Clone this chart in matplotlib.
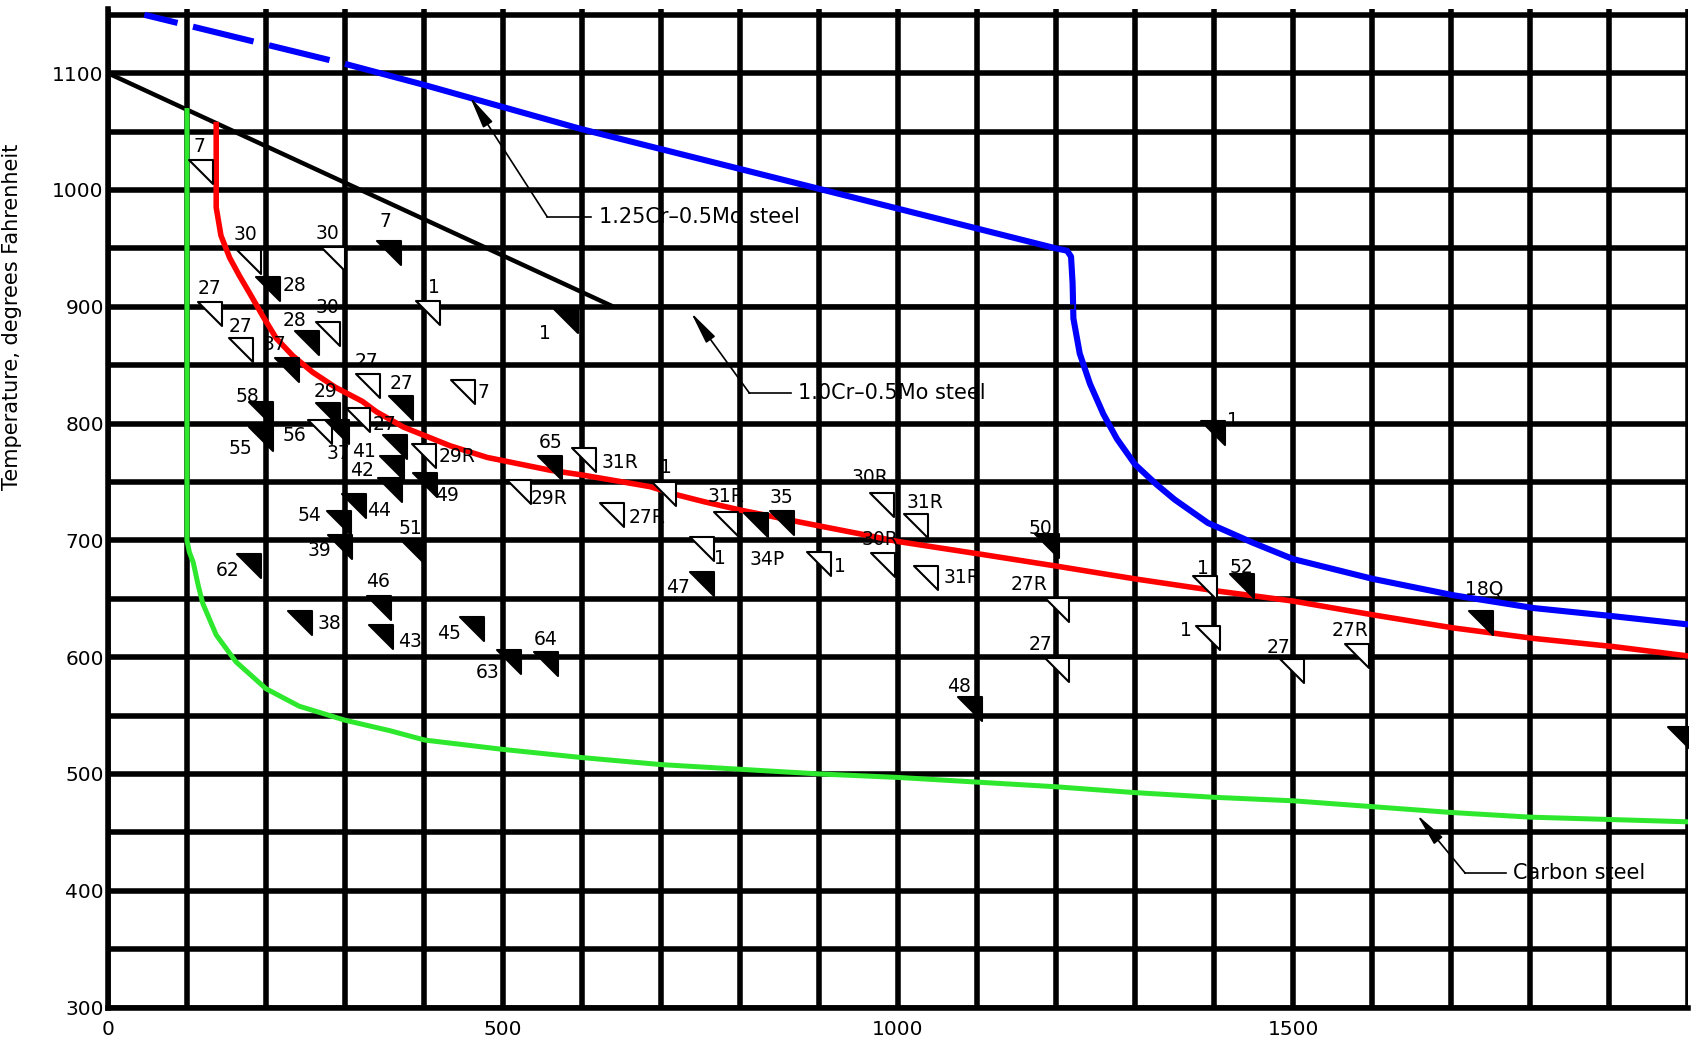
import numpy as np
import matplotlib.pyplot as plt
from matplotlib.path import Path

# Curves (x: time, y: temperature in degrees F)
blue_x = [46, 300, 400, 500, 600, 900, 1200, 1214, 1219, 1221, 1222, 1230, 1243, 1260, 1277,
          1300, 1327, 1350, 1392, 1449, 1500, 1601, 1703, 1805, 1906, 2000]
blue_y = [1150, 1108, 1090, 1071, 1052, 1001, 950, 948, 943, 920, 890, 860, 834, 808, 787,
          765, 748, 735, 715, 698, 684, 667, 653, 642, 635, 628]
blue_dash_end = 300

black_x = [0, 640, 1220]
black_y = [1100, 900, 900]

red_x = [137, 137, 143, 154, 166, 179, 196, 213, 234, 259, 288, 322, 340, 374, 433, 480, 560,
         600, 686, 720, 755, 800, 873, 956, 1000, 1106, 1200, 1300, 1400, 1500, 1603, 1703,
         1805, 1906, 2000]
red_y = [1056, 985, 961, 942, 927, 912, 892, 873, 858, 844, 831, 819, 810, 797, 781, 771, 760,
         756, 746, 739, 733, 726, 716, 705, 699, 688, 678, 667, 657, 648, 636, 625,
         616, 609, 601]

green_x = [100, 100, 103, 108, 114, 120, 137, 162, 200, 242, 300, 357, 401, 500, 600, 700, 800,
           900, 1000, 1100, 1200, 1300, 1400, 1500, 1600, 1700, 1800, 1900, 2000]
green_y = [1068, 700, 690, 681, 662, 646, 619, 596, 573, 558, 546, 537, 529, 521, 514, 508, 504,
           500, 497, 493, 489, 484, 480, 477, 472, 467, 463, 461, 459]

# Data points (filled = 1, open = 0)
pts_x = [118, 178, 285, 356, 203, 129, 405, 580, 168, 252, 278, 226, 329, 371, 449, 194, 279,
         269, 290, 316, 194, 363, 360, 357, 400, 401, 312, 292, 294, 386, 179, 343, 243, 345,
         461, 507, 554, 560, 603, 520, 638, 704, 782, 820, 853, 752, 752, 900, 980, 1023, 981,
         1035, 1189, 1201, 1201, 1091, 1399, 1388, 1436, 1392, 1499, 1581, 1738, 1990]
pts_y = [1015, 938, 941, 946, 915, 894, 895, 888, 863, 869, 877, 846, 832, 813, 827, 808, 807,
         793, 793, 803, 787, 780, 762, 743, 772, 747, 729, 715, 694, 690, 678, 642, 629, 617,
         624, 596, 594, 762, 769, 741, 722, 740, 714, 713, 715, 693, 663, 680, 730, 712, 679,
         668, 695, 640, 589, 556, 792, 659, 661, 616, 588, 601, 629, 530]
pts_label = ["7", "30", "30", "7", "28", "27", "1", "1", "27", "28", "30", "37", "27", "27", "7",
             "58", "29", "56", "37", "27", "55", "41", "", "42", "29R", "49", "44", "54", "39",
             "51", "62", "46", "38", "43", "45", "63", "64", "65", "31R", "29R", "27R", "1",
             "31R", "34P", "35", "1", "47", "1", "30R", "31R", "30R", "31R", "50", "27R", "27",
             "48", "1", "1", "52", "1", "27", "27R", "18Q", ""]
pts_filled = [0, 0, 0, 1, 1, 0, 0, 1, 0, 1, 0, 1, 0, 1, 0, 1, 1, 0, 1, 0, 1, 1, 1, 1, 0, 1, 1,
              1, 1, 1, 1, 1, 1, 1, 1, 1, 1, 1, 0, 0, 0, 0, 0, 1, 1, 0, 1, 0, 0, 0, 0, 0, 1, 0,
              0, 1, 1, 0, 1, 0, 0, 0, 1, 1]

# label offsets in points (layout)
lab_off = [(-1, 19), (-2, 20), (-4, 18), (-3, 23), (19, 3), (0, 18), (4, 18), (-15, -9),
           (0, 17), (-9, 16), (0, 19), (-9, 18), (-1, 18), (0, 18), (15, 0), (-10, 13),
           (-2, 17), (-19, -3), (1, -16), (19, -3), (-15, -7), (-22, -3), (0, 0), (-20, 14),
           (24, 0), (16, -7), (18, -3), (-21, 5), (-15, -2), (-2, 17), (-16, -3), (-1, 19),
           (21, 0), (21, -3), (-17, -3), (-15, -8), (0, 18), (0, 18), (26, -2), (22, -4),
           (25, -2), (1, 19), (0, 20), (8, -25), (0, 18), (13, -7), (-17, -3), (15, -2),
           (-9, 20), (6, 17), (-2, 18), (26, 0), (-5, 13), (-20, 19), (-12, 18), (-8, 16),
           (14, 9), (-1, 14), (-1, 13), (-16, 6), (-10, 17), (-5, 18), (2, 25), (0, 0)]

# curve labels: text, arrow tip, elbow, end of horizontal leader
curve_notes = [
    ("1.25Cr\u20130.5Mo steel", (458, 1080), (556, 977), (612, 977)),
    ("1.0Cr\u20130.5Mo steel", (738, 895), (812, 826), (864, 826)),
    ("Carbon steel", (1657, 465), (1718, 415), (1769, 415)),
]

plt.rcParams['font.family'] = ['DejaVu Sans']

fig = plt.figure(figsize=(16.95, 10.42), dpi=100)
ax = fig.add_axes([0.0637, 0.0331, 0.9322, 0.9583])
ax.set_xlim(0, 2000)
ax.set_ylim(300, 1155)

ax.set_xticks([0, 500, 1000, 1500])
ax.set_xticks(np.arange(0, 2001, 100), minor=True)
ax.set_yticks(np.arange(300, 1101, 100))
ax.set_yticks(np.arange(300, 1151, 50), minor=True)
ax.grid(which='both', color='black', lw=4.0)
ax.set_axisbelow(True)
ax.tick_params(which='both', length=0, labelsize=14.5)
ax.tick_params(axis='x', pad=9)
ax.tick_params(axis='y', pad=3)
for s in ['top', 'right']:
    ax.spines[s].set_visible(False)
for s in ['left', 'bottom']:
    ax.spines[s].set_linewidth(4.0)

ax.set_ylabel('Temperature, degrees Fahrenheit', fontsize=15)
ax.yaxis.set_label_coords(-0.0547, 0.692)

# curves
bx = np.array(blue_x)
by = np.array(blue_y)
k = np.searchsorted(bx, blue_dash_end)
ax.plot(bx[:k + 1], by[:k + 1], color='#0000ff', lw=4.4, ls=(4.6, (10.2, 2.6)), zorder=3)
ax.plot(bx[k:], by[k:], color='#0000ff', lw=4.4, zorder=3, solid_capstyle='butt')
ax.plot(black_x, black_y, color='black', lw=3.2, zorder=3)
ax.plot(red_x, red_y, color='#ff0000', lw=4.0, zorder=3)
ax.plot(green_x, green_y, color='#2ee82e', lw=3.6, zorder=3)

# triangle flag marker
tri = Path([(-1, 1), (1, 1), (1, -1), (-1, 1)],
           [Path.MOVETO, Path.LINETO, Path.LINETO, Path.CLOSEPOLY])

for x, y, lab, f, off in zip(pts_x, pts_y, pts_label, pts_filled, lab_off):
    ax.plot(x, y, marker=tri, ms=17, mew=1.5, mec='black',
            mfc='black' if f else 'white', ls='none', zorder=4)
    if lab:
        ax.annotate(lab, (x, y), xytext=off, textcoords='offset points',
                    ha='center', va='center', fontsize=13.5, zorder=5)

for text, tip, elbow, end in curve_notes:
    ax.plot([elbow[0], end[0]], [elbow[1], end[1]], color='black', lw=1.2, zorder=5)
    ax.annotate('', xy=tip, xytext=elbow,
                arrowprops=dict(arrowstyle='-|>,head_length=1.0,head_width=0.17',
                                color='black', lw=1.2, shrinkA=0, shrinkB=0,
                                mutation_scale=20), zorder=5)
    ax.text(end[0] + 10, end[1], text, ha='left', va='center', fontsize=15, zorder=5)

fig.savefig('out.png', dpi=100)
